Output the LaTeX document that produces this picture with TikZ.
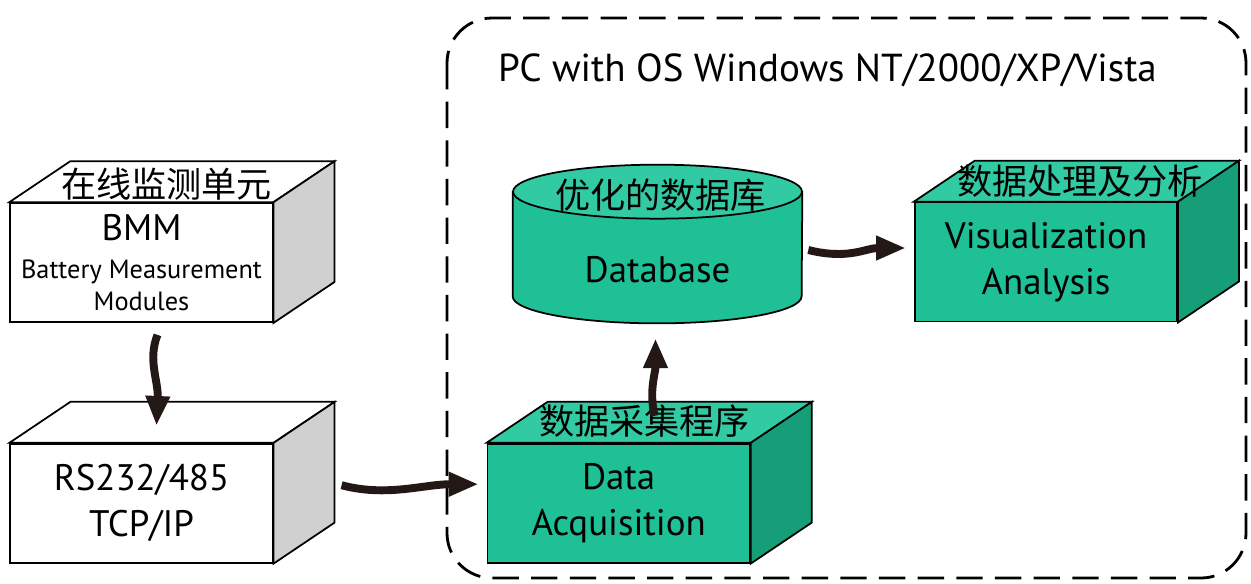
\documentclass[tikz,border=0pt]{standalone}
\usepackage{fontspec}
\setmainfont{PT Sans}
\newfontfamily\cjk{Noto Sans CJK SC}
\usetikzlibrary{positioning}
\usetikzlibrary{calc}
\usetikzlibrary{arrows.meta}

\definecolor{boxgreen}{RGB}{32,192,150}
\definecolor{topgreen}{RGB}{50,202,162}
\definecolor{sidegreen}{RGB}{22,158,120}
\definecolor{sidegray}{RGB}{208,208,208}
\definecolor{arrowdark}{RGB}{35,24,21}

% top and right faces of a box drawn behind its front node
\newcommand{\cuboid}[3]{%
  \filldraw[line width=1pt, fill=#2] (#1.north west) -- ++(61,-41) -- ($(#1.north east)+(61,-41)$) -- (#1.north east) -- cycle;
  \filldraw[line width=1pt, fill=#3] (#1.north east) -- ++(61,-41) -- ($(#1.south east)+(61,-41)$) -- (#1.south east) -- cycle;
}
\newcommand{\subtext}{\fontsize{15}{18}\selectfont}

\begin{document}
\begin{tikzpicture}[x=0.02cm, y=-0.02cm,
    front/.style={draw, line width=1pt, minimum width=5.25cm, minimum height=2.38cm, inner sep=0pt, align=center, font=\fontsize{21}{26}\selectfont},
    cn/.style={font=\cjk\fontsize{20}{20}\selectfont, inner sep=0pt},
    flow/.style={draw=arrowdark, line width=4.5pt, -{Triangle[width=13pt,length=17pt]}}]
    \useasboundingbox (0,0) rectangle (1251,583);

    \draw[line width=1.6pt, dash pattern=on 15pt off 7pt, rounded corners=0.9cm] (447,18) rectangle (1246,578);
    \node[anchor=west, font=\fontsize{22.2}{27}\selectfont] (pc) at (492,70) {PC with OS Windows NT/2000/XP/Vista};

    \node[front, fill=white] (bmm) at (141.5,262.5) {BMM\\[-4pt]{\subtext Battery Measurement}\\[-8pt]{\subtext Modules}};
    \node[front, fill=white, below=2.4cm of bmm] (rs) {RS232/485\\TCP/IP};
    \node[front, fill=boxgreen, right=4.26cm of rs] (daq) {Data\\Acquisition};
    \node[front, fill=boxgreen] (vis) at (1046,262) {Visualization\\Analysis};
    \cuboid{bmm}{white}{sidegray}
    \cuboid{rs}{white}{sidegray}
    \cuboid{daq}{topgreen}{sidegreen}
    \cuboid{vis}{topgreen}{sidegreen}

    % database cylinder
    \node[minimum width=5.78cm, minimum height=2.08cm, inner sep=0pt] (db) at (657.5,244) {};
    \filldraw[line width=1pt, fill=boxgreen] (db.north west) -- (db.south west) arc[start angle=180, end angle=360, x radius=2.89cm, y radius=0.54cm] -- (db.north east) -- cycle;
    \filldraw[line width=1pt, fill=topgreen] (db.north) ellipse[x radius=2.89cm, y radius=0.54cm];
    \node[font=\fontsize{21}{26}\selectfont] (dbtext) at ($(db)+(0,26)$) {Database};

    \node[cn] (bmmcn) at ($(bmm.north)+(25,-18)$) {在线监测单元};
    \node[cn] (dbcn) at ($(db.north)+(3,3)$) {优化的数据库};
    \node[cn] (daqcn) at ($(daq.north)+(26,-22)$) {数据采集程序};
    \node[cn] (viscn) at ($(vis.north)+(34,-20)$) {数据处理及分析};

    \draw[flow] ($(bmm.south)+(16,12)$) .. controls +(-10,25) and +(2,-45) .. ($(rs.north)+(15,-17)$);
    \draw[flow] ($(rs.east)+(68,-18)$) .. controls +(45,12) and +(-55,0) .. ($(daq.west)+(-8,-19)$);
    \draw[flow] ($(daq.north)+(36,-27)$) .. controls +(-6,-25) and +(0,35) .. ($(db.south)+(-2,42)$);
    \draw[flow] ($(db.east)+(6,6)$) .. controls +(40,10) and +(-40,0) .. ($(vis.west)+(-8,-14)$);
\end{tikzpicture}
\end{document}
